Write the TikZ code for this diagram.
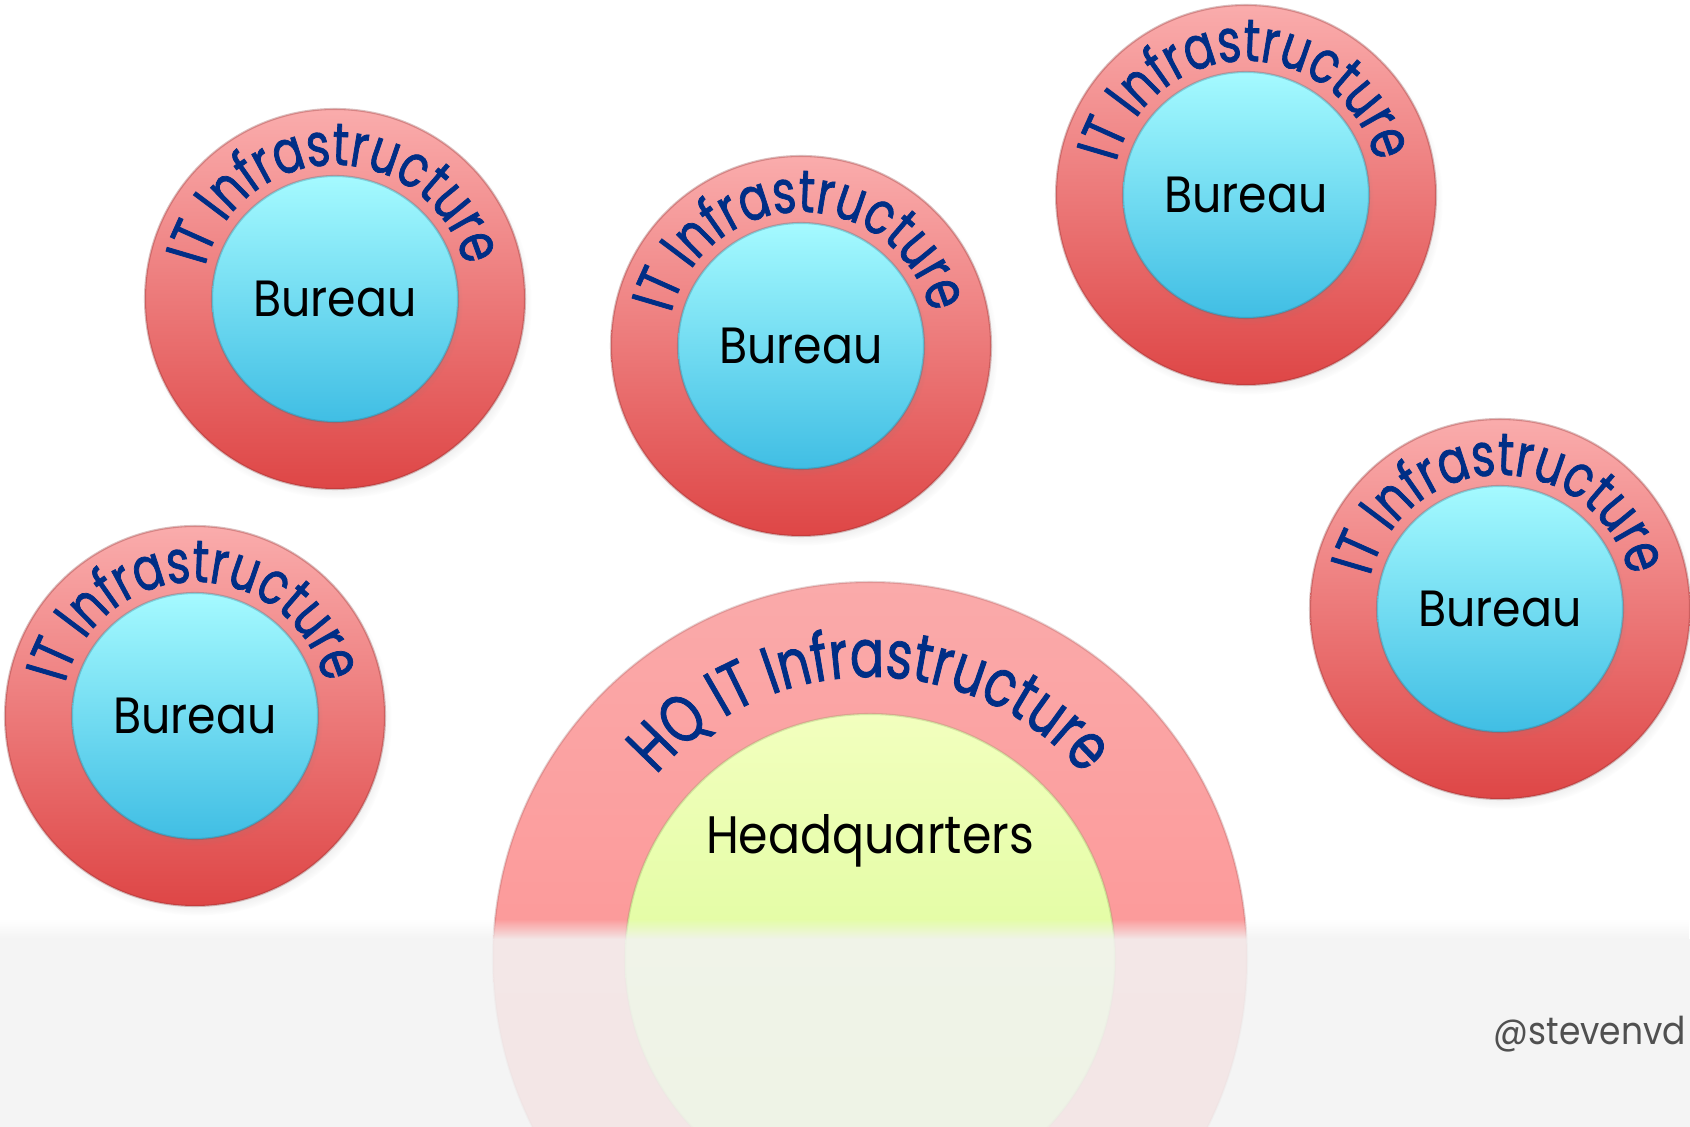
\documentclass[tikz,border=0pt]{standalone}
\usepackage{fontspec}
\setmainfont[FakeStretch=0.9]{Poppins}
\newfontfamily\arcfont[FakeStretch=0.76, FakeBold=1.2]{Poppins}
\usetikzlibrary{shadows, decorations.text, fadings}
\definecolor{ringtop}{RGB}{250,172,172}
\definecolor{ringbot}{RGB}{222,70,70}
\definecolor{coretop}{RGB}{165,250,255}
\definecolor{corebot}{RGB}{64,190,228}
\definecolor{hqringtop}{RGB}{250,170,170}
\definecolor{hqringbot}{RGB}{255,136,136}
\definecolor{hqcoretop}{RGB}{242,255,190}
\definecolor{hqcorebot}{RGB}{210,250,135}
\definecolor{itblue}{RGB}{0,46,134}
\definecolor{bandgray}{RGB}{242,242,242}
\definecolor{tagcolor}{RGB}{80,80,80}

\begin{document}
\begin{tikzpicture}[
    ring/.style={circle, inner sep=0pt, minimum size=3.8cm, top color=ringtop, bottom color=ringbot, draw=ringbot!60!black, draw opacity=0.3, line width=0.6pt, circular drop shadow={shadow scale=1.02, shadow xshift=0.8pt, shadow yshift=-1.6pt, opacity=0.35}},
    core/.style={circle, inner sep=0pt, minimum size=2.46cm, top color=coretop, bottom color=corebot, draw=corebot!60!black, draw opacity=0.3, line width=0.6pt, circular drop shadow={shadow scale=1.02, shadow xshift=0.6pt, shadow yshift=-1.2pt, opacity=0.3}, font=\fontsize{14.5}{16}\selectfont},
    hqring/.style={circle, inner sep=0pt, minimum size=7.54cm, top color=hqringtop, bottom color=hqringbot, draw=hqringbot!60!black, draw opacity=0.25, line width=0.6pt},
    hqcore/.style={circle, inner sep=0pt, minimum size=4.9cm, top color=hqcoretop, bottom color=hqcorebot, draw=hqcorebot!60!black, draw opacity=0.25, line width=0.6pt},
    arctext/.style={decorate, decoration={text along path, text align=center, text color=itblue, text={|\arcfont\fontsize{17}{17}\selectfont|IT Infrastructure}}},
    hqarctext/.style={decorate, decoration={text along path, text align=center, text color=itblue, text={|\arcfont\fontsize{19}{19}\selectfont|HQ IT Infrastructure}}}
]
    \useasboundingbox (0,0) rectangle (16.9,11.27);

    % Headquarters
    \node[hqring] (hq) at (8.70,1.68) {};
    \node[hqcore] (hqcore) at (hq) {};
    \node[font=\fontsize{15}{17}\selectfont] (hqlabel) at ([yshift=1.18cm]hq.center) {Headquarters};
    \path[hqarctext] ([shift={(180:2.82)}]hq.center) arc[start angle=180, end angle=0, radius=2.82];

    % Bureaus
    \node[ring] (b1) at (3.35,8.28) {};
    \node[core] (b1core) at (b1) {Bureau};
    \path[arctext] ([shift={(180:1.34)}]b1.center) arc[start angle=180, end angle=0, radius=1.34];

    \node[ring] (b2) at (8.01,7.81) {};
    \node[core] (b2core) at (b2) {Bureau};
    \path[arctext] ([shift={(180:1.34)}]b2.center) arc[start angle=180, end angle=0, radius=1.34];

    \node[ring] (b3) at (12.46,9.32) {};
    \node[core] (b3core) at (b3) {Bureau};
    \path[arctext] ([shift={(180:1.34)}]b3.center) arc[start angle=180, end angle=0, radius=1.34];

    \node[ring] (b4) at (1.95,4.11) {};
    \node[core] (b4core) at (b4) {Bureau};
    \path[arctext] ([shift={(180:1.34)}]b4.center) arc[start angle=180, end angle=0, radius=1.34];

    \node[ring] (b5) at (15.00,5.18) {};
    \node[core] (b5core) at (b5) {Bureau};
    \path[arctext] ([shift={(180:1.34)}]b5.center) arc[start angle=180, end angle=0, radius=1.34];

    % Floor band
    \fill[bandgray, fill opacity=0.88] (0,0) rectangle (16.9,1.88);
    \fill[bandgray, fill opacity=0.88, path fading=north] (0,1.88) rectangle (16.9,2.08);

    % Tag
    \node[anchor=base west, inner sep=0pt, text=tagcolor, font=\fontsize{10.9}{12}\selectfont] (tag) at (14.93,0.82) {@stevenvd};
\end{tikzpicture}
\end{document}
